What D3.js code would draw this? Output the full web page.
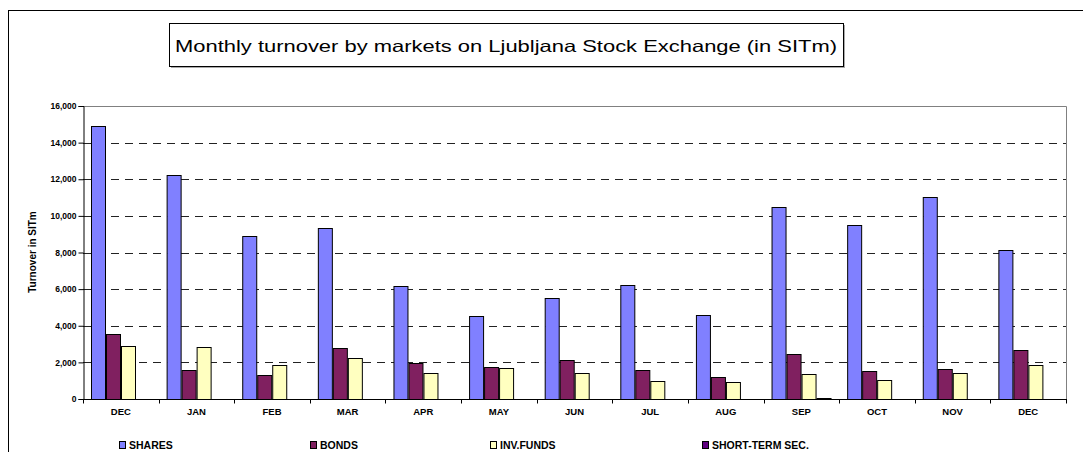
<!DOCTYPE html>
<html lang="en">
<head>
  <meta charset="utf-8">
  <title>Monthly turnover by markets on Ljubljana Stock Exchange</title>
  <style>
    html,body { margin:0; padding:0; background:#fff; }
    svg { display:block; }
    text { font-family:"Liberation Sans", Arial, sans-serif; }
  </style>
  <script src="https://d3js.org/d3.v7.min.js"></script>
</head>
<body>
<svg width="1083" height="452"></svg>
<script>
// chart data
const months = ["DEC","JAN","FEB","MAR","APR","MAY","JUN","JUL","AUG","SEP","OCT","NOV","DEC"];
const seriesNames = ["SHARES","BONDS","INV.FUNDS","SHORT-TERM SEC."];
const shares    = [14900,12230,8900,9350,6150,4520,5540,6230,4580,10500,9480,11010,8110];
const bonds     = [3550,1570,1300,2760,1990,1750,2150,1590,1200,2480,1510,1640,2700];
const invFunds  = [2900,2850,1880,2240,1440,1680,1400,1000,910,1370,1060,1440,1860];
const shortTerm = [null,null,null,null,null,null,null,null,null,40,null,null,null];
const yTicks = [0,2000,4000,6000,8000,10000,12000,14000,16000];
const colors = ["#8080FF","#802060","#FFFFC0","#600080"];

const seriesValues = [shares, bonds, invFunds, shortTerm];

const W = 1083, H = 452;
const plot = {left:83, right:1066, top:106, bottom:399};

const svg = d3.select("svg");

// outer chart frame
svg.append("rect")
  .attr("x", 8.5).attr("y", 10.5)
  .attr("width", W + 20).attr("height", H + 20)
  .attr("fill", "none").attr("stroke", "#000");

// title box
const title = svg.append("g");
title.append("rect")
  .attr("x", 171).attr("y", 25).attr("width", 674).attr("height", 43)
  .attr("fill", "#aaa");
title.append("rect")
  .attr("x", 169.5).attr("y", 23.5).attr("width", 674).attr("height", 43)
  .attr("fill", "#fff").attr("stroke", "#000");
title.append("text")
  .attr("x", 175).attr("y", 46)
  .attr("dominant-baseline", "central")
  .attr("font-family", "'DejaVu Sans', sans-serif")
  .attr("font-size", 16.5)
  .attr("textLength", 662)
  .attr("lengthAdjust", "spacingAndGlyphs")
  .attr("fill", "#000")
  .text("Monthly turnover by markets on Ljubljana Stock Exchange (in SITm)");

const x0 = d3.scaleBand()
  .domain(d3.range(months.length))
  .range([plot.left, plot.right]);

const gap = 7.8;
const x1 = d3.scaleBand()
  .domain(d3.range(seriesNames.length))
  .range([gap, x0.bandwidth() - gap]);

const y = d3.scaleLinear()
  .domain([0, 16000])
  .range([plot.bottom, plot.top]);

// plot area border (grey top/right)
svg.append("path")
  .attr("d", `M${plot.left},${plot.top + 0.5}H${plot.right + 0.5}V${plot.bottom}`)
  .attr("fill", "none").attr("stroke", "#808080");

// dashed gridlines
svg.append("g")
  .selectAll("line")
  .data(yTicks.filter(t => t > 0 && t < 16000))
  .join("line")
    .attr("x1", plot.left).attr("x2", plot.right)
    .attr("y1", d => Math.round(y(d)) + 0.5).attr("y2", d => Math.round(y(d)) + 0.5)
    .attr("stroke", "#222")
    .attr("stroke-dasharray", "8,6");

// bars
const groups = svg.append("g")
  .selectAll("g")
  .data(months.map((m, i) => i))
  .join("g")
    .attr("transform", i => `translate(${x0(i)},0)`);

groups.selectAll("rect")
  .data(i => seriesValues.map((s, k) => ({k, v: s[i]})).filter(d => d.v != null))
  .join("rect")
    .attr("x", d => Math.round(x1(d.k)) + 0.5)
    .attr("y", d => Math.round(y(d.v)) + 0.5)
    .attr("width", x1.bandwidth() - 1)
    .attr("height", d => Math.max(0, plot.bottom - Math.round(y(d.v))))
    .attr("fill", d => colors[d.k])
    .attr("stroke", "#000")
    .attr("stroke-width", 1);

// y axis
const yAxis = svg.append("g")
  .attr("transform", `translate(${plot.left + 0.5},0)`)
  .call(d3.axisLeft(y).tickValues(yTicks).tickFormat(d3.format(",")).tickSize(5).tickPadding(2));
yAxis.select(".domain").attr("stroke", "#000");
yAxis.selectAll("text")
  .attr("font-size", 8.5).attr("font-weight", "bold").attr("fill", "#000")
  .attr("font-family", "'Liberation Sans', Arial, sans-serif");

// x axis with ticks at category boundaries
const xAxis = svg.append("g")
  .attr("transform", `translate(0,${plot.bottom + 0.5})`);
xAxis.append("line")
  .attr("x1", plot.left).attr("x2", plot.right + 1)
  .attr("stroke", "#000");
xAxis.selectAll("line.tick")
  .data(d3.range(months.length + 1))
  .join("line")
    .attr("class", "tick")
    .attr("x1", i => Math.round(plot.left + i * x0.step()) + 0.5)
    .attr("x2", i => Math.round(plot.left + i * x0.step()) + 0.5)
    .attr("y1", 0).attr("y2", 4)
    .attr("stroke", "#000");
xAxis.selectAll("text")
  .data(months)
  .join("text")
    .attr("x", (d, i) => x0(i) + x0.bandwidth() / 2)
    .attr("y", 15)
    .attr("text-anchor", "middle")
    .attr("font-size", 9.5).attr("font-weight", "bold")
    .text(d => d);

// y axis title
svg.append("text")
  .attr("transform", "translate(36,252) rotate(-90)")
  .attr("text-anchor", "middle")
  .attr("font-size", 10).attr("font-weight", "bold")
  .text("Turnover in SITm");

// legend
const legendX = [119, 310, 490, 702];
const legend = svg.append("g")
  .selectAll("g")
  .data(seriesNames)
  .join("g")
    .attr("transform", (d, i) => `translate(${legendX[i]},441)`);
legend.append("rect")
  .attr("x", 0.5).attr("y", 0.5).attr("width", 6).attr("height", 7)
  .attr("fill", (d, i) => colors[i]).attr("stroke", "#000");
legend.append("text")
  .attr("x", 10).attr("y", 7.5)
  .attr("font-size", 10.5).attr("font-weight", "bold")
  .text(d => d);
</script>
</body>
</html>
